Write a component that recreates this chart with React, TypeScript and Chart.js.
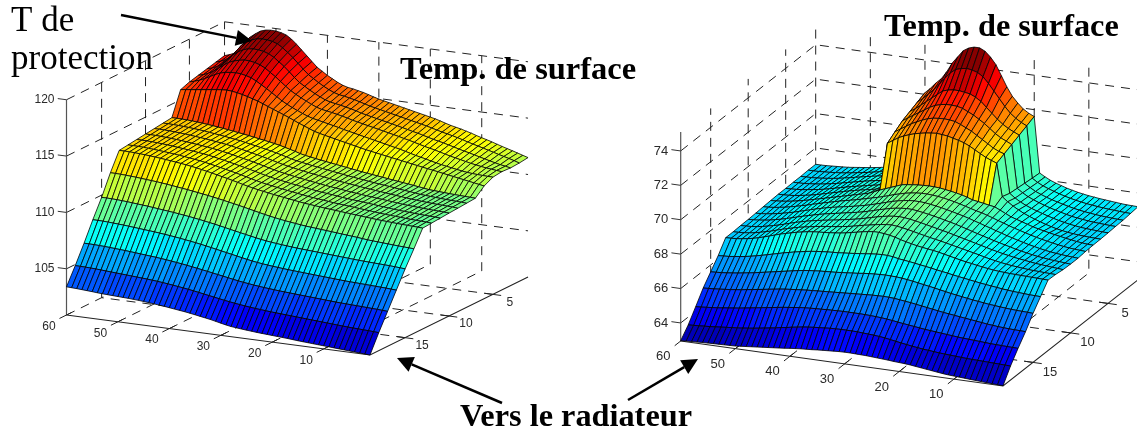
import React, { useEffect, useRef } from "react";
import { Chart, registerables } from "chart.js";

Chart.register(...registerables);

// x positions of the mesh columns, from the far end (60) to the near end (1)
const xGrid = [60,59,58,57,56,55,54,53,52,51,50,49,48,47,46,45,44,43,42,41,40,39,38,37,36,35,34,33,32,31,30,29,28,27,26,25,24,23,22,21,20,19,18,17,16,15,14,13,12,11,10,9,8,7,6,5,4,3,2,1];
const yGrid = [1,2,3,4,5,6,7,8,9,10,11,12,13,14,15,16,17,18,19];
const xTicks = [60,50,40,30,20,10];
const yTicks = [5,10,15];
const leftZTicks = [105,110,115,120];
const rightZTicks = [64,66,68,70,72,74];

const L01 = [117.00,117.15,117.35,117.70,118.35,118.95,119.30,119.60,119.75,119.80,119.78,119.70,119.55,119.25,118.85,118.40,117.95,117.50,117.05,116.75,116.45,116.20,115.95,115.75,115.62,115.55,115.45,115.35,115.22,115.08,114.95,114.85,114.75,114.65,114.55,114.45,114.35,114.25,114.15,114.05,113.95,113.85,113.72,113.58,113.45,113.35,113.25,113.12,113.00,112.85,112.72,112.60,112.47,112.32,112.18,112.05,111.92,111.78,111.64,111.50];
const L02 = [116.80,116.95,117.15,117.50,118.05,118.60,118.95,119.20,119.35,119.40,119.38,119.30,119.15,118.85,118.50,118.10,117.65,117.20,116.78,116.48,116.18,115.92,115.68,115.48,115.35,115.28,115.18,115.08,114.96,114.83,114.70,114.60,114.50,114.40,114.30,114.20,114.10,114.00,113.90,113.80,113.70,113.60,113.48,113.36,113.24,113.14,113.04,112.92,112.80,112.66,112.54,112.42,112.30,112.17,112.05,111.92,111.80,111.68,111.55,111.40];
const L03 = [116.60,116.72,116.92,117.22,117.65,118.10,118.45,118.70,118.85,118.90,118.88,118.80,118.65,118.40,118.05,117.70,117.28,116.85,116.45,116.18,115.90,115.65,115.42,115.22,115.08,115.00,114.92,114.82,114.72,114.60,114.46,114.36,114.26,114.16,114.06,113.96,113.86,113.76,113.66,113.55,113.44,113.34,113.22,113.10,112.98,112.88,112.78,112.66,112.54,112.42,112.30,112.20,112.08,111.96,111.85,111.73,111.62,111.52,111.44,111.35];
const L04 = [116.40,116.52,116.70,116.95,117.28,117.62,117.92,118.10,118.22,118.30,118.28,118.20,118.05,117.82,117.50,117.18,116.82,116.45,116.12,115.85,115.60,115.38,115.15,114.96,114.82,114.74,114.66,114.56,114.46,114.35,114.22,114.12,114.02,113.92,113.82,113.72,113.62,113.52,113.42,113.32,113.20,113.10,112.98,112.86,112.74,112.64,112.54,112.42,112.30,112.18,112.08,111.98,111.88,111.78,111.70,111.62,111.55,111.50,111.45,111.40];
const L05 = [116.20,116.32,116.48,116.68,116.92,117.15,117.35,117.47,117.52,117.55,117.52,117.42,117.28,117.05,116.78,116.50,116.20,115.90,115.60,115.35,115.12,114.92,114.72,114.54,114.40,114.30,114.20,114.10,114.00,113.90,113.78,113.68,113.58,113.48,113.38,113.28,113.18,113.08,112.98,112.88,112.78,112.68,112.56,112.44,112.32,112.22,112.12,112.00,111.90,111.80,111.72,111.64,111.56,111.48,111.42,111.38,111.35,111.33,111.31,111.30];
const L06 = [115.90,115.96,116.02,116.08,116.14,116.20,116.26,116.32,116.37,116.40,116.36,116.28,116.18,116.06,115.92,115.78,115.60,115.42,115.24,115.06,114.88,114.70,114.50,114.30,114.12,113.94,113.76,113.64,113.53,113.43,113.33,113.23,113.13,113.03,112.93,112.83,112.73,112.65,112.57,112.49,112.41,112.33,112.25,112.17,112.09,112.01,111.93,111.85,111.77,111.70,111.62,111.54,111.46,111.38,111.30,111.22,111.14,111.06,110.98,110.90];
const L07 = [113.80,113.80,113.79,113.77,113.74,113.70,113.66,113.61,113.56,113.50,113.44,113.38,113.31,113.24,113.17,113.10,113.02,112.94,112.86,112.78,112.69,112.60,112.48,112.36,112.24,112.10,112.00,111.92,111.84,111.77,111.70,111.63,111.56,111.49,111.42,111.35,111.28,111.21,111.15,111.09,111.03,110.97,110.91,110.85,110.79,110.73,110.67,110.61,110.55,110.48,110.42,110.39,110.36,110.33,110.30,110.28,110.26,110.24,110.22,110.20];
const L08 = [113.70,113.70,113.69,113.67,113.64,113.61,113.57,113.53,113.48,113.42,113.36,113.30,113.24,113.17,113.10,113.03,112.94,112.85,112.76,112.67,112.58,112.48,112.37,112.26,112.14,112.01,111.91,111.83,111.75,111.67,111.60,111.53,111.46,111.39,111.32,111.25,111.18,111.12,111.06,111.00,110.94,110.88,110.82,110.77,110.72,110.66,110.60,110.55,110.50,110.44,110.38,110.35,110.32,110.29,110.26,110.23,110.21,110.19,110.17,110.14];
const L09 = [113.60,113.60,113.59,113.57,113.54,113.51,113.47,113.43,113.38,113.33,113.28,113.22,113.16,113.10,113.03,112.95,112.86,112.77,112.67,112.57,112.47,112.37,112.26,112.15,112.03,111.92,111.82,111.73,111.65,111.57,111.49,111.42,111.35,111.28,111.21,111.14,111.08,111.03,110.97,110.91,110.85,110.79,110.74,110.69,110.64,110.59,110.54,110.49,110.44,110.39,110.34,110.31,110.27,110.24,110.21,110.18,110.16,110.14,110.12,110.08];
const L10 = [113.50,113.50,113.49,113.47,113.44,113.41,113.37,113.33,113.28,113.23,113.18,113.12,113.06,113.00,112.93,112.85,112.76,112.67,112.57,112.47,112.37,112.27,112.16,112.05,111.93,111.82,111.72,111.63,111.55,111.47,111.39,111.32,111.25,111.18,111.11,111.04,110.98,110.93,110.87,110.81,110.75,110.70,110.65,110.60,110.56,110.51,110.47,110.42,110.37,110.32,110.27,110.24,110.21,110.18,110.15,110.12,110.10,110.08,110.06,110.03];
const L11 = [113.40,113.40,113.39,113.37,113.34,113.31,113.27,113.23,113.18,113.13,113.08,113.02,112.96,112.90,112.83,112.75,112.66,112.57,112.47,112.37,112.27,112.17,112.06,111.95,111.83,111.72,111.62,111.53,111.45,111.37,111.29,111.22,111.15,111.08,111.01,110.94,110.88,110.83,110.78,110.72,110.66,110.61,110.57,110.53,110.49,110.44,110.40,110.35,110.30,110.26,110.21,110.18,110.15,110.12,110.09,110.06,110.04,110.02,110.00,109.97];
const L12 = [113.30,113.30,113.29,113.27,113.24,113.21,113.17,113.13,113.08,113.03,112.98,112.92,112.86,112.80,112.73,112.65,112.56,112.47,112.37,112.27,112.17,112.07,111.96,111.85,111.73,111.62,111.52,111.43,111.35,111.27,111.19,111.12,111.05,110.98,110.91,110.84,110.78,110.73,110.68,110.63,110.57,110.53,110.49,110.45,110.41,110.36,110.32,110.28,110.23,110.19,110.15,110.12,110.09,110.06,110.03,110.00,109.98,109.96,109.94,109.91];
const L13 = [113.20,113.20,113.19,113.17,113.14,113.11,113.07,113.03,112.98,112.93,112.88,112.82,112.76,112.70,112.63,112.55,112.46,112.37,112.27,112.17,112.07,111.97,111.86,111.75,111.63,111.52,111.42,111.33,111.25,111.17,111.09,111.02,110.95,110.88,110.81,110.74,110.68,110.63,110.58,110.53,110.48,110.44,110.40,110.36,110.32,110.28,110.24,110.20,110.16,110.12,110.08,110.05,110.02,109.99,109.96,109.94,109.92,109.90,109.88,109.85];
const L14 = [111.60,111.60,111.58,111.56,111.53,111.50,111.46,111.42,111.38,111.34,111.29,111.24,111.18,111.12,111.06,111.00,110.93,110.86,110.79,110.72,110.64,110.56,110.47,110.38,110.29,110.20,110.10,110.00,109.90,109.80,109.70,109.61,109.53,109.45,109.38,109.32,109.26,109.20,109.15,109.11,109.07,109.03,108.99,108.95,108.91,108.87,108.83,108.79,108.75,108.70,108.65,108.62,108.59,108.56,108.53,108.50,108.47,108.45,108.42,108.40];
const L15 = [109.80,109.80,109.79,109.77,109.74,109.71,109.67,109.63,109.59,109.55,109.50,109.45,109.40,109.35,109.30,109.24,109.18,109.12,109.05,108.98,108.90,108.82,108.74,108.65,108.56,108.46,108.37,108.28,108.19,108.10,108.01,107.93,107.86,107.80,107.75,107.70,107.66,107.62,107.58,107.55,107.52,107.49,107.46,107.43,107.40,107.37,107.34,107.31,107.28,107.25,107.22,107.20,107.18,107.16,107.14,107.12,107.10,107.07,107.04,107.00];
const L16 = [108.20,108.20,108.19,108.17,108.14,108.11,108.08,108.04,108.00,107.96,107.92,107.88,107.84,107.79,107.74,107.69,107.63,107.57,107.50,107.43,107.36,107.28,107.20,107.11,107.02,106.93,106.84,106.75,106.66,106.57,106.48,106.40,106.33,106.27,106.22,106.17,106.13,106.09,106.05,106.02,105.99,105.96,105.93,105.90,105.87,105.84,105.81,105.78,105.75,105.72,105.70,105.68,105.66,105.64,105.62,105.60,105.58,105.56,105.53,105.50];
const L17 = [106.50,106.50,106.49,106.47,106.45,106.42,106.39,106.36,106.33,106.29,106.25,106.21,106.17,106.13,106.09,106.04,105.99,105.93,105.87,105.81,105.74,105.67,105.60,105.52,105.44,105.36,105.28,105.20,105.12,105.04,104.96,104.89,104.83,104.77,104.72,104.67,104.63,104.59,104.55,104.52,104.49,104.46,104.43,104.40,104.37,104.34,104.31,104.28,104.25,104.22,104.20,104.18,104.16,104.14,104.12,104.10,104.08,104.06,104.03,104.00];
const L18 = [104.90,104.89,104.88,104.86,104.84,104.81,104.78,104.75,104.72,104.69,104.66,104.63,104.60,104.57,104.54,104.50,104.46,104.41,104.36,104.30,104.24,104.18,104.11,104.04,103.96,103.88,103.80,103.72,103.64,103.56,103.49,103.42,103.36,103.30,103.25,103.20,103.16,103.12,103.08,103.05,103.02,102.99,102.96,102.93,102.90,102.87,102.84,102.81,102.78,102.75,102.72,102.69,102.66,102.63,102.61,102.59,102.57,102.55,102.52,102.50];
const L19 = [103.40,103.38,103.36,103.33,103.30,103.27,103.23,103.20,103.18,103.16,103.14,103.12,103.10,103.07,103.04,103.00,102.96,102.91,102.86,102.81,102.75,102.69,102.63,102.57,102.50,102.42,102.34,102.26,102.18,102.08,101.98,101.88,101.80,101.75,101.70,101.66,101.62,101.58,101.55,101.52,101.49,101.46,101.43,101.40,101.36,101.32,101.29,101.26,101.23,101.20,101.17,101.14,101.11,101.08,101.05,101.02,100.99,100.96,100.93,100.90];
const leftZ = [L01,L02,L03,L04,L05,L06,L07,L08,L09,L10,L11,L12,L13,L14,L15,L16,L17,L18,L19];

const R01 = [67.05,67.05,67.06,67.08,67.10,67.12,67.14,67.18,67.22,67.26,67.30,67.35,67.40,67.46,67.52,67.58,67.65,67.72,67.80,67.90,72.10,72.40,72.75,73.05,73.50,74.05,74.45,74.85,75.05,75.15,75.15,75.00,74.70,74.30,73.70,73.10,72.60,72.25,71.95,71.75,71.60,68.36,68.18,68.02,67.90,67.80,67.70,67.62,67.55,67.49,67.44,67.40,67.36,67.33,67.30,67.27,67.24,67.22,67.21,67.20];
const R02 = [67.05,67.05,67.06,67.08,67.10,67.13,67.16,67.20,67.25,67.30,67.35,67.41,67.47,67.53,67.59,67.65,67.71,67.78,67.85,67.95,71.90,72.15,72.45,72.75,73.10,73.50,73.85,74.10,74.20,74.25,74.20,74.10,73.90,73.55,73.15,72.75,72.35,72.00,71.75,71.55,71.40,68.40,68.20,68.04,67.92,67.81,67.71,67.62,67.54,67.47,67.41,67.36,67.32,67.28,67.25,67.22,67.20,67.18,67.16,67.15];
const R03 = [67.03,67.04,67.05,67.07,67.10,67.14,67.18,67.23,67.29,67.35,67.42,67.48,67.55,67.61,67.67,67.73,67.79,67.85,67.92,68.00,71.70,71.90,72.15,72.40,72.65,72.90,73.15,73.25,73.30,73.30,73.25,73.20,73.05,72.85,72.55,72.25,71.95,71.70,71.50,71.35,71.20,68.45,68.24,68.06,67.93,67.81,67.71,67.62,67.54,67.46,67.39,67.33,67.28,67.24,67.20,67.17,67.15,67.13,67.11,67.10];
const R04 = [67.03,67.04,67.05,67.08,67.11,67.15,67.20,67.26,67.32,67.39,67.46,67.53,67.60,67.67,67.73,67.79,67.85,67.91,67.98,68.05,71.50,71.70,71.90,72.10,72.30,72.50,72.65,72.75,72.80,72.80,72.78,72.70,72.55,72.40,72.20,72.00,71.75,71.50,71.30,71.15,71.00,68.50,68.28,68.10,67.96,67.84,67.73,67.63,67.54,67.46,67.38,67.31,67.26,67.22,67.18,67.15,67.13,67.11,67.09,67.08];
const R05 = [67.02,67.03,67.05,67.08,67.12,67.17,67.22,67.28,67.35,67.43,67.50,67.58,67.65,67.72,67.78,67.85,67.91,67.97,68.03,68.10,71.20,71.40,71.60,71.80,71.95,72.10,72.22,72.30,72.33,72.35,72.33,72.28,72.15,72.00,71.85,71.65,71.45,71.25,71.05,70.90,70.80,68.55,68.32,68.13,67.98,67.85,67.74,67.64,67.54,67.45,67.37,67.30,67.24,67.19,67.15,67.12,67.10,67.08,67.06,67.05];
const R06 = [67.02,67.03,67.05,67.08,67.13,67.18,67.24,67.31,67.39,67.47,67.55,67.63,67.71,67.79,67.86,67.93,67.99,68.05,68.12,68.20,70.88,71.08,71.28,71.43,71.55,71.65,71.72,71.78,71.82,71.85,71.82,71.78,71.70,71.62,71.52,71.38,71.20,71.02,70.85,70.72,70.60,68.70,68.45,68.24,68.06,67.90,67.77,67.65,67.54,67.44,67.35,67.27,67.21,67.16,67.12,67.09,67.07,67.05,67.04,67.03];
const R07 = [67.00,67.02,67.05,67.09,67.14,67.20,67.27,67.34,67.42,67.50,67.58,67.66,67.74,67.82,67.90,67.98,68.06,68.14,68.22,68.36,68.50,68.62,68.74,68.86,68.98,69.03,69.07,69.10,69.12,69.13,69.12,69.10,69.05,69.00,68.94,68.87,68.78,68.67,68.62,68.56,68.50,68.45,68.30,68.15,68.00,67.90,67.80,67.70,67.60,67.52,67.45,67.38,67.32,67.26,67.20,67.15,67.10,67.06,67.03,67.02];
const R08 = [66.98,67.00,67.03,67.08,67.13,67.20,67.27,67.35,67.43,67.52,67.60,67.69,67.77,67.85,67.93,68.00,68.07,68.14,68.22,68.30,68.38,68.46,68.55,68.65,68.75,68.84,68.92,68.98,69.02,69.05,69.05,69.03,69.00,68.95,68.89,68.82,68.74,68.65,68.56,68.47,68.40,68.30,68.20,68.08,67.98,67.87,67.77,67.68,67.59,67.50,67.42,67.35,67.28,67.22,67.16,67.11,67.07,67.04,67.02,67.00];
const R09 = [66.95,66.97,67.00,67.05,67.10,67.17,67.24,67.32,67.41,67.50,67.59,67.68,67.76,67.84,67.91,67.97,68.03,68.09,68.15,68.22,68.29,68.37,68.46,68.55,68.65,68.74,68.82,68.88,68.93,68.95,68.95,68.93,68.88,68.83,68.77,68.70,68.63,68.55,68.47,68.38,68.28,68.18,68.08,67.98,67.88,67.78,67.68,67.59,67.50,67.42,67.34,67.27,67.20,67.14,67.09,67.05,67.02,66.99,66.97,66.95];
const R10 = [66.93,66.95,66.98,67.02,67.07,67.14,67.21,67.29,67.38,67.47,67.56,67.64,67.72,67.80,67.87,67.93,67.99,68.05,68.11,68.17,68.23,68.30,68.38,68.47,68.56,68.64,68.72,68.78,68.82,68.85,68.84,68.80,68.75,68.69,68.63,68.56,68.48,68.41,68.33,68.24,68.15,68.05,67.96,67.87,67.78,67.69,67.61,67.53,67.45,67.37,67.30,67.24,67.18,67.13,67.09,67.05,67.02,67.00,66.97,66.95];
const R11 = [66.92,66.93,66.95,66.99,67.04,67.11,67.18,67.26,67.35,67.45,67.54,67.62,67.70,67.77,67.83,67.89,67.94,67.99,68.04,68.10,68.16,68.22,68.29,68.37,68.45,68.53,68.60,68.66,68.70,68.72,68.70,68.66,68.60,68.54,68.47,68.40,68.33,68.26,68.19,68.11,68.03,67.95,67.87,67.79,67.71,67.63,67.55,67.48,67.41,67.35,67.29,67.24,67.20,67.15,67.11,67.08,67.05,67.02,67.00,66.97];
const R12 = [66.90,66.91,66.93,66.97,67.02,67.09,67.17,67.25,67.35,67.44,67.53,67.61,67.69,67.75,67.81,67.87,67.92,67.96,68.00,68.04,68.09,68.14,68.20,68.27,68.34,68.40,68.46,68.52,68.56,68.58,68.55,68.50,68.44,68.37,68.30,68.23,68.16,68.10,68.04,67.97,67.90,67.83,67.76,67.69,67.62,67.55,67.47,67.40,67.34,67.28,67.23,67.19,67.16,67.13,67.10,67.08,67.07,67.05,67.04,67.03];
const R13 = [66.90,66.91,66.93,66.97,67.02,67.08,67.16,67.25,67.35,67.45,67.55,67.63,67.71,67.79,67.85,67.91,67.95,67.98,68.00,68.03,68.06,68.10,68.15,68.22,68.28,68.35,68.40,68.45,68.45,68.42,68.37,68.30,68.20,68.12,68.05,67.98,67.93,67.88,67.84,67.78,67.71,67.64,67.57,67.50,67.44,67.39,67.33,67.28,67.23,67.19,67.16,67.14,67.12,67.11,67.10,67.09,67.08,67.07,67.06,67.05];
const R14 = [66.20,66.22,66.24,66.28,66.32,66.37,66.43,66.50,66.57,66.65,66.73,66.81,66.89,66.96,67.03,67.09,67.15,67.20,67.24,67.27,67.30,67.32,67.34,67.37,67.40,67.43,67.47,67.50,67.54,67.57,67.59,67.58,67.55,67.48,67.44,67.40,67.35,67.30,67.25,67.20,67.14,67.09,67.04,66.98,66.93,66.88,66.83,66.78,66.73,66.69,66.65,66.61,66.57,66.54,66.51,66.49,66.47,66.45,66.44,66.43];
const R15 = [65.60,65.62,65.64,65.67,65.71,65.75,65.80,65.85,65.90,65.96,66.02,66.08,66.14,66.20,66.26,66.32,66.38,66.43,66.47,66.50,66.53,66.55,66.57,66.59,66.62,66.65,66.68,66.71,66.75,66.78,66.80,66.82,66.83,66.82,66.81,66.78,66.74,66.69,66.64,66.58,66.53,66.47,66.41,66.35,66.29,66.24,66.19,66.14,66.09,66.05,66.01,65.97,65.94,65.91,65.88,65.86,65.84,65.83,65.82,65.80];
const R16 = [65.00,65.02,65.04,65.07,65.10,65.13,65.17,65.21,65.26,65.31,65.36,65.41,65.46,65.51,65.56,65.60,65.63,65.66,65.69,65.72,65.74,65.76,65.78,65.80,65.82,65.84,65.86,65.88,65.90,65.92,65.94,65.96,65.97,65.98,65.97,65.95,65.91,65.87,65.83,65.78,65.73,65.68,65.63,65.58,65.53,65.49,65.45,65.41,65.37,65.33,65.29,65.25,65.21,65.18,65.15,65.13,65.11,65.10,65.09,65.08];
const R17 = [64.26,64.28,64.31,64.34,64.37,64.41,64.45,64.49,64.53,64.58,64.63,64.68,64.73,64.78,64.83,64.88,64.93,64.97,65.01,65.05,65.08,65.10,65.12,65.13,65.15,65.16,65.17,65.18,65.18,65.18,65.18,65.17,65.16,65.14,65.12,65.09,65.05,65.00,64.96,64.92,64.88,64.84,64.80,64.77,64.74,64.71,64.68,64.65,64.62,64.60,64.58,64.56,64.54,64.52,64.50,64.49,64.48,64.47,64.46,64.45];
const R18 = [63.54,63.56,63.58,63.60,63.62,63.65,63.68,63.71,63.74,63.77,63.80,63.84,63.88,63.93,63.98,64.03,64.08,64.14,64.19,64.25,64.30,64.35,64.39,64.42,64.45,64.47,64.50,64.51,64.52,64.52,64.52,64.51,64.49,64.47,64.45,64.42,64.38,64.33,64.27,64.22,64.17,64.12,64.08,64.04,64.01,63.98,63.95,63.93,63.91,63.89,63.87,63.85,63.84,63.83,63.82,63.81,63.80,63.79,63.78,63.77];
const R19 = [62.97,62.99,63.01,63.02,63.04,63.05,63.06,63.07,63.08,63.09,63.10,63.13,63.16,63.19,63.22,63.25,63.28,63.31,63.34,63.37,63.41,63.44,63.47,63.49,63.51,63.54,63.56,63.58,63.60,63.62,63.63,63.63,63.62,63.61,63.60,63.58,63.56,63.54,63.52,63.49,63.47,63.45,63.42,63.38,63.34,63.30,63.26,63.22,63.18,63.15,63.13,63.11,63.09,63.07,63.05,63.03,63.01,63.00,62.98,62.97];
const rightZ = [R01,R02,R03,R04,R05,R06,R07,R08,R09,R10,R11,R12,R13,R14,R15,R16,R17,R18,R19];

type Box = { ox: number; oy: number; xdx: number; xdy: number; ydx: number; ydy: number; z0: number; zs: number; zTop: number; font: number };
const leftBox: Box = { ox: 66.5, oy: 315, xdx: 5.144, xdy: 0.678, ydx: 8.78, ydy: 4.33, z0: 100.9, zs: 11.27, zTop: 120, font: 12 };
const rightBox: Box = { ox: 680.7, oy: 341, xdx: 5.463, xdy: 0.763, ydx: 7.5, ydy: 5.9, z0: 62.95, zs: 17.2, zTop: 75.1, font: 13 };

const project = (b: Box, x: number, y: number, z: number) => ({
  x: b.ox + (60 - x) * b.xdx + (19 - y) * b.ydx,
  y: b.oy + (60 - x) * b.xdy - (19 - y) * b.ydy - (z - b.z0) * b.zs,
});

function jet(t: number) {
  const n = Math.min(63, Math.max(0, Math.floor(t * 64)));
  const v = (n + 0.5) / 64;
  const ramp = (c: number) => Math.round(255 * Math.max(0, Math.min(1, 1.5 - Math.abs(4 * v - c))));
  return `rgb(${ramp(3)},${ramp(2)},${ramp(1)})`;
}

function surfaceSets(b: Box, Z: number[][]) {
  const flat = Z.flat();
  const lo = Math.min(...flat);
  const hi = Math.max(...flat);
  const sets: any[] = [];
  for (let i = 0; i < xGrid.length - 1; i++) {
    for (let j = 0; j < yGrid.length - 1; j++) {
      const a = project(b, xGrid[i], yGrid[j], Z[j][i]);
      const c = project(b, xGrid[i + 1], yGrid[j], Z[j][i + 1]);
      const d = project(b, xGrid[i + 1], yGrid[j + 1], Z[j + 1][i + 1]);
      const e = project(b, xGrid[i], yGrid[j + 1], Z[j + 1][i]);
      sets.push({
        data: [a, c, d, e, a],
        showLine: true,
        fill: "shape",
        backgroundColor: jet((Z[j][i + 1] - lo) / (hi - lo)),
        borderColor: "#000",
        borderWidth: 0.8,
        pointRadius: 0,
        clip: false,
      });
    }
  }
  return sets;
}

function seg(p: { x: number; y: number }[], color: string, width: number, dash?: number[]) {
  return { data: p, showLine: true, fill: false, borderColor: color, borderWidth: width, borderDash: dash ?? [], pointRadius: 0, clip: false };
}

function frameSets(b: Box, zTicks: number[]) {
  const dash = [9, 7];
  const col = "#222";
  const sets: any[] = [];
  const P = (x: number, y: number, z: number) => project(b, x, y, z);
  for (const x of xTicks.slice(1)) {
    sets.push(seg([P(x, 19, b.z0), P(x, 1, b.z0), P(x, 1, b.zTop)], col, 1, dash));
  }
  for (const y of yTicks) {
    sets.push(seg([P(1, y, b.z0), P(60, y, b.z0), P(60, y, b.zTop)], col, 1, dash));
  }
  for (const z of zTicks) {
    sets.push(seg([P(60, 19, z), P(60, 1, z), P(1, 1, z)], col, 1, dash));
  }
  sets.push(seg([P(60, 19, b.z0), P(60, 1, b.z0), P(60, 1, b.zTop)], col, 1, dash));
  sets.push(seg([P(60, 19, b.z0), P(60, 19, b.zTop)], "#555", 1.2));
  sets.push(seg([P(60, 19, b.z0), P(1, 19, b.z0), P(1, 1, b.z0)], "#222", 1.1));
  for (const x of xTicks) sets.push(seg([P(x, 19.8, b.z0), P(x, 18.4, b.z0)], "#222", 1));
  for (const y of yTicks) sets.push(seg([P(-0.6, y, b.z0), P(2.6, y, b.z0)], "#222", 1));
  for (const z of zTicks) sets.push(seg([P(61.7, 19, z), P(60, 19, z)], "#333", 1));
  return sets;
}

const headings = [
  { text: "T de", x: 11, y: 31, size: 35, weight: "normal" },
  { text: "protection", x: 11, y: 69, size: 35, weight: "normal" },
  { text: "Temp. de surface", x: 400, y: 79, size: 32.5, weight: "bold" },
  { text: "Temp. de surface", x: 884, y: 36, size: 32.3, weight: "bold" },
  { text: "Vers le radiateur", x: 460, y: 426, size: 32.3, weight: "bold" },
];

const arrows = [
  { from: [121, 15], to: [252, 41] },
  { from: [502, 403], to: [397, 358] },
  { from: [628, 400], to: [698, 359] },
];

const overlay = {
  id: "overlay",
  afterDraw(chart: any) {
    const ctx = chart.ctx;
    const sx = chart.scales.x;
    const sy = chart.scales.y;
    ctx.save();
    ctx.fillStyle = "#2a2a2a";
    const labels = (b: Box, zTicks: number[], zx: number, xOff: number[], yOff: number[]) => {
      ctx.font = `${b.font}px "Liberation Sans"`;
      ctx.textBaseline = "middle";
      ctx.textAlign = "right";
      for (const z of zTicks) {
        const p = project(b, 60, 19, z);
        ctx.fillText(String(z), sx.getPixelForValue(p.x) + zx, sy.getPixelForValue(p.y));
      }
      ctx.textAlign = "center";
      for (const x of xTicks) {
        const p = project(b, x, 19, b.z0);
        ctx.fillText(String(x), sx.getPixelForValue(p.x) + xOff[0], sy.getPixelForValue(p.y) + xOff[1]);
      }
      for (const y of yTicks) {
        const p = project(b, 1, y, b.z0);
        ctx.fillText(String(y), sx.getPixelForValue(p.x) + yOff[0], sy.getPixelForValue(p.y) + yOff[1]);
      }
    };
    labels(leftBox, leftZTicks, -12, [-17.5, 11.5], [17, 8]);
    labels(rightBox, rightZTicks, -12.5, [-17.5, 15.5], [17, 10]);

    ctx.fillStyle = "#000";
    ctx.strokeStyle = "#000";
    ctx.textAlign = "left";
    ctx.textBaseline = "alphabetic";
    for (const h of headings) {
      ctx.font = `${h.weight} ${h.size}px "Liberation Serif"`;
      ctx.fillText(h.text, h.x, h.y);
    }
    for (const a of arrows) {
      const [x0, y0] = a.from;
      const [x1, y1] = a.to;
      const ang = Math.atan2(y1 - y0, x1 - x0);
      const len = 16;
      const half = 8;
      const bx = x1 - Math.cos(ang) * len;
      const by = y1 - Math.sin(ang) * len;
      ctx.lineWidth = 2.5;
      ctx.beginPath();
      ctx.moveTo(x0, y0);
      ctx.lineTo(bx, by);
      ctx.stroke();
      ctx.beginPath();
      ctx.moveTo(x1, y1);
      ctx.lineTo(bx - Math.sin(ang) * half, by + Math.cos(ang) * half);
      ctx.lineTo(bx + Math.sin(ang) * half, by - Math.cos(ang) * half);
      ctx.closePath();
      ctx.fill();
    }
    ctx.restore();
  },
};

export default function App() {
  const ref = useRef<HTMLCanvasElement | null>(null);
  useEffect(() => {
    if (!ref.current) return;
    const backToFront = [
      ...frameSets(leftBox, leftZTicks),
      ...frameSets(rightBox, rightZTicks),
      ...surfaceSets(leftBox, leftZ),
      ...surfaceSets(rightBox, rightZ),
    ];
    const chart = new Chart(ref.current, {
      type: "scatter",
      data: { datasets: backToFront.reverse() },
      options: {
        animation: false,
        responsive: false,
        devicePixelRatio: 1,
        events: [],
        layout: { padding: 0 },
        elements: { line: { tension: 0 }, point: { radius: 0 } },
        scales: {
          x: { type: "linear", min: 0, max: 1137, display: false },
          y: { type: "linear", min: 0, max: 434, reverse: true, display: false },
        },
        plugins: { legend: { display: false }, tooltip: { enabled: false } },
      },
      plugins: [overlay],
    } as any);
    return () => chart.destroy();
  }, []);
  return (
    <div style={{ position: "absolute", left: 0, top: 0, width: 1137, height: 434, background: "#fff" }}>
      <canvas ref={ref} width={1137} height={434} style={{ display: "block" }} />
    </div>
  );
}
